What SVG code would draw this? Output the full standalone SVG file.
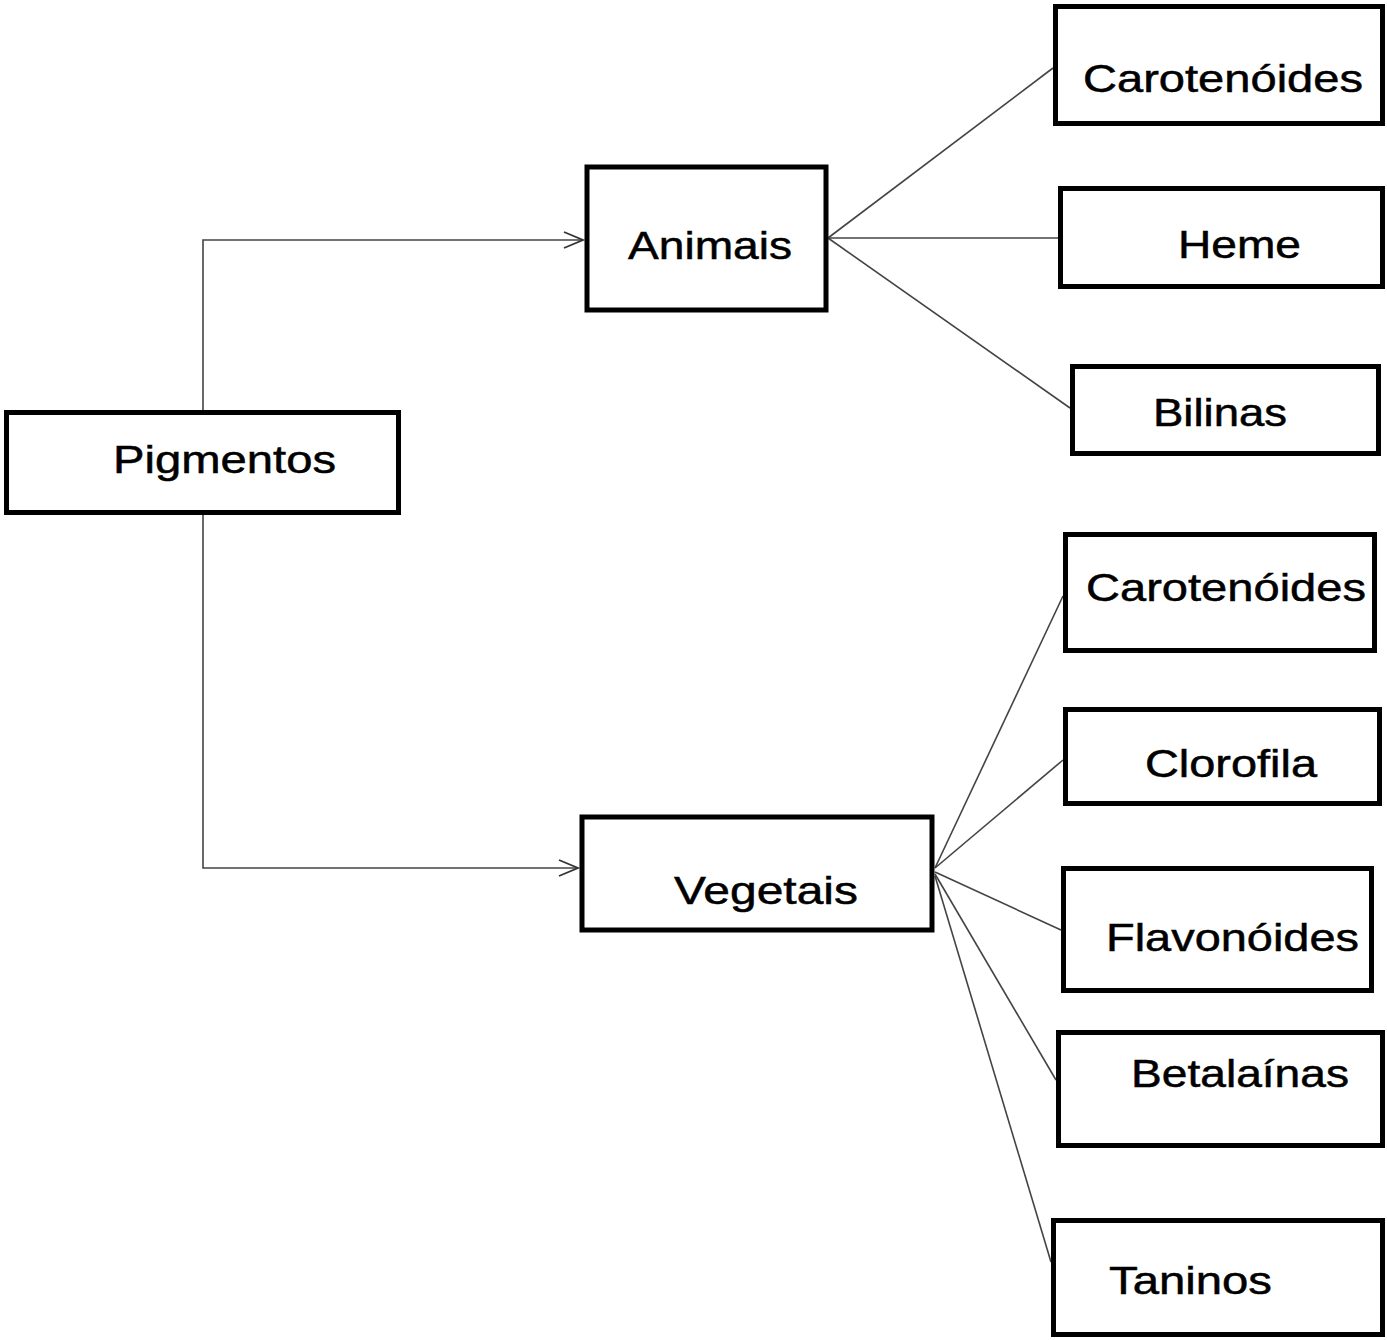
<svg xmlns="http://www.w3.org/2000/svg" width="1387" height="1340" viewBox="0 0 1387 1340">
<style>
.box{fill:#fff;stroke:#000;stroke-width:5}
.lbl{font-family:"Liberation Sans",Arial,sans-serif;font-size:38px;fill:#000;stroke:#000;stroke-width:0.5}
.con{fill:none;stroke:#444;stroke-width:1.6}
</style>
<defs>
<marker id="arr" markerWidth="24" markerHeight="20" refX="21" refY="10" orient="auto" markerUnits="userSpaceOnUse">
<path d="M2,2 L21,10 L2,18" fill="none" stroke="#333" stroke-width="1.8"/>
</marker>
</defs>
<g id="connectors">
<path class="con" d="M203,410 V240 H583" marker-end="url(#arr)"/>
<path class="con" d="M203,515 V868 H578" marker-end="url(#arr)"/>
<line class="con" x1="828" y1="238" x2="1053" y2="68"/>
<line class="con" x1="828" y1="238" x2="1058" y2="238"/>
<line class="con" x1="828" y1="238" x2="1070" y2="408"/>
<line class="con" x1="935" y1="868" x2="1063" y2="596"/>
<line class="con" x1="935" y1="868" x2="1063" y2="760"/>
<line class="con" x1="935" y1="872" x2="1061" y2="930"/>
<line class="con" x1="935" y1="874" x2="1056" y2="1080"/>
<line class="con" x1="935" y1="876" x2="1051" y2="1262"/>
</g>
<g id="pigmentos">
<rect class="box" x="6.5" y="412.5" width="392" height="100"/>
<text class="lbl" x="113" y="473" textLength="223" lengthAdjust="spacingAndGlyphs">Pigmentos</text>
</g>
<g id="animais">
<rect class="box" x="587" y="167" width="239" height="143"/>
<text class="lbl" x="628" y="259" textLength="164" lengthAdjust="spacingAndGlyphs">Animais</text>
</g>
<g id="vegetais">
<rect class="box" x="582" y="817" width="350" height="113"/>
<text class="lbl" x="674" y="904" textLength="184" lengthAdjust="spacingAndGlyphs">Vegetais</text>
</g>
<g id="carotenoides-animais">
<rect class="box" x="1055.5" y="6.5" width="327" height="117"/>
<text class="lbl" x="1083" y="92" textLength="280" lengthAdjust="spacingAndGlyphs">Carotenóides</text>
</g>
<g id="heme">
<rect class="box" x="1060.5" y="188.5" width="322" height="98"/>
<text class="lbl" x="1178" y="258" textLength="123" lengthAdjust="spacingAndGlyphs">Heme</text>
</g>
<g id="bilinas">
<rect class="box" x="1072.5" y="366.5" width="306" height="87"/>
<text class="lbl" x="1153" y="426" textLength="134" lengthAdjust="spacingAndGlyphs">Bilinas</text>
</g>
<g id="carotenoides-vegetais">
<rect class="box" x="1065.5" y="534.5" width="309" height="116"/>
<text class="lbl" x="1086" y="601" textLength="280" lengthAdjust="spacingAndGlyphs">Carotenóides</text>
</g>
<g id="clorofila">
<rect class="box" x="1065.5" y="709.5" width="314" height="94"/>
<text class="lbl" x="1145" y="777" textLength="172" lengthAdjust="spacingAndGlyphs">Clorofila</text>
</g>
<g id="flavonoides">
<rect class="box" x="1063.5" y="868.5" width="308" height="122"/>
<text class="lbl" x="1106" y="951" textLength="253" lengthAdjust="spacingAndGlyphs">Flavonóides</text>
</g>
<g id="betalainas">
<rect class="box" x="1058.5" y="1032.5" width="324" height="113"/>
<text class="lbl" x="1131" y="1087" textLength="218" lengthAdjust="spacingAndGlyphs">Betalaínas</text>
</g>
<g id="taninos">
<rect class="box" x="1053.5" y="1220.5" width="329" height="114"/>
<text class="lbl" x="1109" y="1294" textLength="163" lengthAdjust="spacingAndGlyphs">Taninos</text>
</g>
</svg>
